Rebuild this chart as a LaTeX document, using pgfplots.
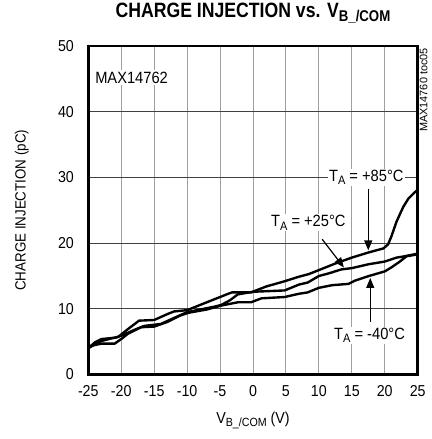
\documentclass[border=0pt]{standalone}
\usepackage{fontspec}
\setmainfont{Liberation Sans}
\usepackage{graphicx}
\usepackage{pgfplots}
\pgfplotsset{compat=1.18}
\usetikzlibrary{arrows.meta}
% condensed look through a horizontal scale, no font stretching
\newcommand{\cond}[1]{\scalebox{0.9}[1]{#1}}
\newcommand{\sub}[1]{\raisebox{-0.35ex}{\scalebox{0.75}{#1}}}
\tikzstyle{note} = [fill=white, inner sep=1.5bp, font=\fontsize{16.5}{17}\selectfont]
\tikzstyle{pointer} = [line width=1.2bp, -{Triangle[length=10bp,width=8bp]}]
\tikzstyle{curve} = [black, no marks, line width=2.4bp, line join=round]

\begin{document}
\begin{tikzpicture}
\begin{axis}[
    width=332bp, height=331bp, scale only axis,
    xmin=-25, xmax=25, ymin=0, ymax=50,
    xtick={-25,-20,...,25}, ytick={0,10,...,50},
    grid=major,
    x grid style={gray!75, line width=0.9bp},
    y grid style={black!75, line width=0.8bp},
    axis line style={line width=2.6bp},
    major tick length=0pt,
    tick label style={font=\fontsize{16}{16}\selectfont},
    /pgf/number format/assume math mode=true,
    xticklabel={\cond{\pgfmathprintnumber{\tick}}},
    yticklabel={\cond{\pgfmathprintnumber{\tick}}},
    xticklabel style={yshift=-8bp},
    yticklabel style={xshift=-11bp},
    title={\scalebox{0.85}[1]{\bfseries CHARGE INJECTION vs. V\sub{B\_/COM}}},
    title style={at={(axis description cs:0.5,1.0816)}, anchor=center, font=\fontsize{21}{21}\selectfont},
    xlabel={\cond{V\sub{B\_/COM} (V)}},
    xlabel style={at={(axis description cs:0.5,-0.139)}, anchor=center, font=\fontsize{16}{16}\selectfont},
    ylabel={\cond{CHARGE INJECTION (pC)}},
    ylabel style={at={(axis description cs:-0.202,0.5)}, anchor=center, font=\fontsize{15}{15}\selectfont},
]
% T_A = +85 C
\addplot[curve] coordinates {(-25,4.0) (-24,4.6) (-23,5.1) (-21.5,5.5) (-20.5,5.7) (-19,6.9) (-17.3,8.2) (-15,8.3) (-13,9.2) (-12,9.6) (-10,9.8) (-8,10.6) (-6,11.4) (-4,12.2) (-3.2,12.5) (-0.3,12.5) (2,13.4) (4.8,14.2) (7,14.9) (8.5,15.3) (10,15.9) (12.5,16.9) (15,17.8) (17.6,18.6) (19.8,19.2) (20.5,19.8) (21,21.0) (21.8,23.3) (22.8,25.5) (23.6,26.8) (24.5,27.7) (25,28.1)};
% T_A = +25 C
\addplot[curve] coordinates {(-25,4.0) (-24,4.9) (-23,5.4) (-21,5.6) (-20,5.9) (-18,6.8) (-16.5,7.4) (-14,7.7) (-12,8.6) (-10,9.5) (-8,9.9) (-6,10.3) (-4.8,10.6) (-3.5,11.3) (-2.3,12.2) (0,12.6) (4.8,12.8) (7,13.7) (8.3,14.0) (10,15.0) (11.5,15.4) (13.4,16.0) (15,16.2) (17.6,16.8) (20,17.2) (21.8,17.8) (23,18.0) (25,18.4)};
% T_A = -40 C
\addplot[curve] coordinates {(-25,4.2) (-24,4.5) (-23,4.7) (-21,4.7) (-20,5.4) (-19,6.2) (-17,7.2) (-15,7.3) (-13,8.0) (-11,9.0) (-9.8,9.4) (-7,9.9) (-4.8,10.5) (-2.3,11.0) (-0.3,11.0) (1.3,11.6) (4.8,11.8) (7,12.3) (8.3,12.5) (10,13.2) (12,13.6) (14.5,13.8) (15.5,14.3) (17.6,15.0) (20,15.7) (21,16.3) (22.3,17.2) (23.3,18.0) (25,18.3)};

\node[note, anchor=west] at (axis cs:-24.2,45.2) {\cond{MAX14762}};
\node[note] at (axis cs:17.2,30) {\cond{T\sub{A} = +85°C}};
\node[note] at (axis cs:8.4,23.1) {\cond{T\sub{A} = +25°C}};
\node[note] at (axis cs:17.7,5.9) {\cond{T\sub{A} = -40°C}};
\draw[pointer] (axis cs:17.5,28.3) -- (axis cs:17.5,18.9);
\draw[pointer] (axis cs:10.5,20.6) -- (axis cs:13.8,16.3);
\draw[pointer] (axis cs:17.8,8.0) -- (axis cs:17.8,14.7);
\end{axis}
\node[rotate=90, anchor=east, font=\fontsize{11}{11}\selectfont, inner sep=0pt]
    at ([xshift=6bp, yshift=-2bp]current axis.north east) {MAX14760 toc05};
\path (current axis.south west) ++(-89bp,-65bp) rectangle ++(435bp,439bp);
\end{tikzpicture}
\end{document}
